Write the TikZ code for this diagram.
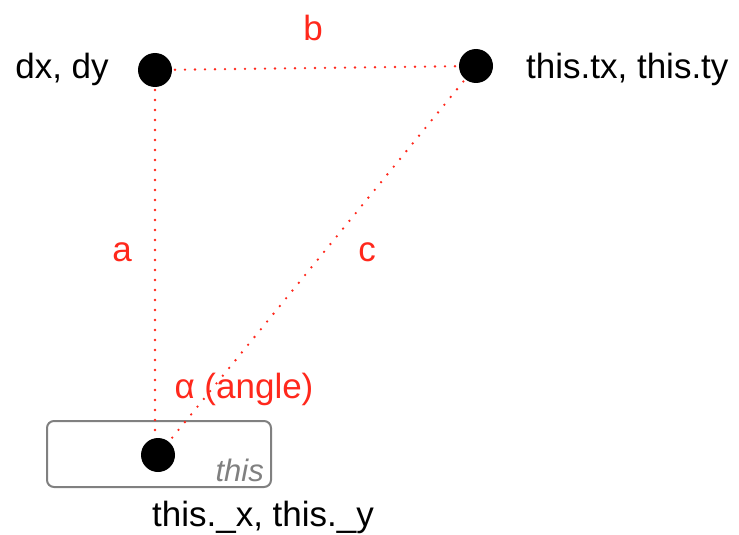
\documentclass[tikz,border=0pt]{standalone}
\usepackage{fontspec}
\setmainfont{Liberation Sans}
\begin{document}
\begin{tikzpicture}[x=1pt,y=-1pt,
  dot/.style={circle,fill=black,inner sep=0pt,minimum size=34pt},
  lbl/.style={font=\fontsize{35}{40}\selectfont,text=black,inner sep=0pt},
  rlbl/.style={font=\fontsize{35}{40}\selectfont,text=redc,inner sep=0pt},
  conn/.style={draw=redc,line width=2.6pt,dash pattern=on 0pt off 10pt,line cap=round}]
\definecolor{redc}{RGB}{255,40,28}
\definecolor{grayc}{RGB}{128,128,128}
\useasboundingbox (0,0) rectangle (739,535);
\node[draw=grayc,line width=2pt,rounded corners=7pt,minimum width=224pt,minimum height=66pt,inner sep=0pt] (box) at (159,454) {};
\node[font=\fontsize{31}{36}\selectfont\itshape,text=grayc,inner sep=0pt,anchor=base east] (thislbl) at (264,481) {this};
\coordinate (p1) at (155,70);
\coordinate (p2) at (476,66);
\coordinate (p3) at (158,455);
\coordinate (p3a) at (155,455);
\draw[conn] (p1) -- (p3a);
\draw[conn] (p1) -- (p2);
\draw[conn] (p2) -- (p3);
\node[dot] (d1) at (p1) {};
\node[dot] (d2) at (p2) {};
\node[dot] (d3) at (p3) {};
\node[lbl] (l1) at (62,69) {dx, dy};
\node[lbl,anchor=west] (l2) at (526,69) {this.tx, this.ty};
\node[lbl] (l3) at (263,517) {this.\_x, this.\_y};
\node[rlbl] (b) at (313,28) {b};
\node[rlbl] (a) at (122,252) {a};
\node[rlbl] (c) at (367,252) {c};
\node[rlbl] (alpha) at (244,389) {α (angle)};
\end{tikzpicture}
\end{document}
